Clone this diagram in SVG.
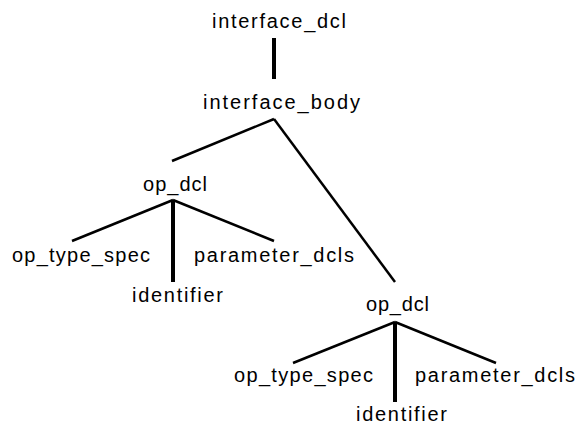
<svg xmlns="http://www.w3.org/2000/svg" width="579" height="426" viewBox="0 0 579 426">
<style>
text{font-family:"Liberation Sans","DejaVu Sans",sans-serif;font-size:20px;fill:#000}
.e{stroke:#000;stroke-width:2.5;fill:none;stroke-linecap:butt}
.h{stroke:#000;stroke-width:4;fill:none}
</style>
<rect width="579" height="426" fill="#fff"/>
<g id="connectors">
<line class="h" x1="274" y1="38" x2="274" y2="79"/>
<line class="e" x1="274" y1="119" x2="172" y2="161"/>
<line class="e" x1="274" y1="119" x2="395" y2="282"/>
<line class="e" x1="173" y1="200" x2="72" y2="241"/>
<line class="e" x1="173" y1="200" x2="274" y2="241"/>
<line class="h" x1="173" y1="200" x2="173" y2="282"/>
<line class="e" x1="395" y1="322" x2="293" y2="363"/>
<line class="e" x1="395" y1="322" x2="496" y2="363"/>
<line class="h" x1="395" y1="322" x2="395" y2="402"/>
</g>
<g id="interface_dcl"><text x="212" y="28" textLength="134" lengthAdjust="spacing">interface_dcl</text></g>
<g id="interface_body"><text x="203" y="109" textLength="157" lengthAdjust="spacing">interface_body</text></g>
<g id="op_dcl_1"><text x="143" y="191" textLength="64" lengthAdjust="spacing">op_dcl</text></g>
<g id="op_type_spec_1"><text x="12" y="262" textLength="138" lengthAdjust="spacing">op_type_spec</text></g>
<g id="parameter_dcls_1"><text x="194" y="262" textLength="160" lengthAdjust="spacing">parameter_dcls</text></g>
<g id="identifier_1"><text x="132" y="302" textLength="91" lengthAdjust="spacing">identifier</text></g>
<g id="op_dcl_2"><text x="366" y="311" textLength="63" lengthAdjust="spacing">op_dcl</text></g>
<g id="op_type_spec_2"><text x="234" y="382" textLength="139" lengthAdjust="spacing">op_type_spec</text></g>
<g id="parameter_dcls_2"><text x="415" y="382" textLength="160" lengthAdjust="spacing">parameter_dcls</text></g>
<g id="identifier_2"><text x="356" y="421" textLength="91" lengthAdjust="spacing">identifier</text></g>
</svg>
